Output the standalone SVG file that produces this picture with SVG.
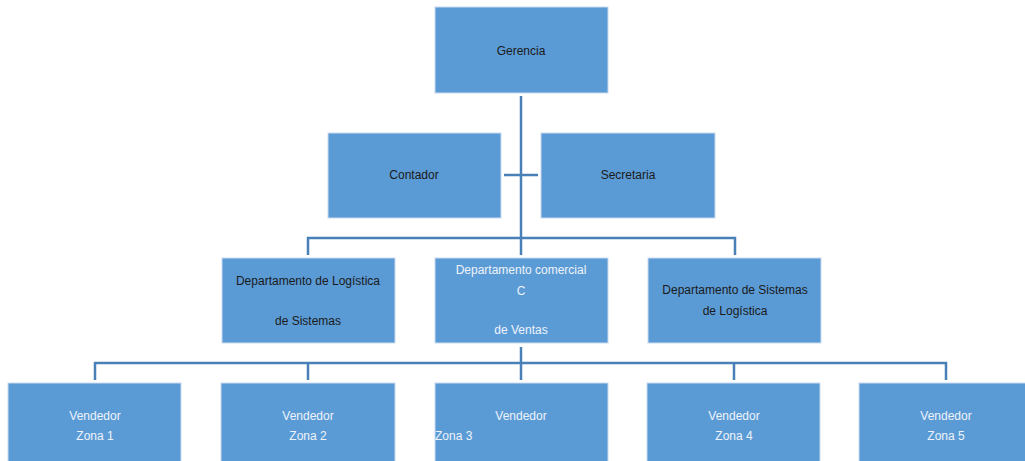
<svg xmlns="http://www.w3.org/2000/svg" width="1025" height="461" viewBox="0 0 1025 461">
<style>
.box{fill:#5b9bd5;stroke:#c9daf0;stroke-width:1}
.dk{font-family:"Liberation Sans",Arial,sans-serif;font-size:12px;fill:#1a1a1a;text-anchor:middle}
.lt{font-family:"Liberation Sans",Arial,sans-serif;font-size:12px;fill:#eef3fa;text-anchor:middle}
.ln{fill:none;stroke:#4a80b8;stroke-width:2.5}
</style>
<rect width="1025" height="461" fill="#ffffff"/>
<g id="connectors">
<path class="ln" d="M521 96V238"/>
<path class="ln" d="M504 175H538"/>
<path class="ln" d="M308 255V238H735V255"/>
<path class="ln" d="M521 238V255"/>
<path class="ln" d="M521 347V363"/>
<path class="ln" d="M95 380V363H946V380"/>
<path class="ln" d="M308 363V380M521 363V380M734 363V380"/>
</g>
<g id="gerencia"><rect class="box" x="435" y="7" width="173" height="86"/><text class="dk" x="521" y="55">Gerencia</text></g>
<g id="contador"><rect class="box" x="328" y="133" width="173" height="85"/><text class="dk" x="414" y="179">Contador</text></g>
<g id="secretaria"><rect class="box" x="541" y="133" width="174" height="85"/><text class="dk" x="628" y="179">Secretaria</text></g>
<g id="dep-logistica"><rect class="box" x="222" y="258" width="173" height="85"/><text class="dk" x="308" y="285">Departamento de Logística</text><text class="dk" x="308" y="325">de Sistemas</text></g>
<g id="dep-comercial"><rect class="box" x="435" y="258" width="173" height="85"/><text class="lt" x="521" y="274">Departamento comercial</text><text class="lt" x="521" y="295">C</text><text class="lt" x="521" y="334">de Ventas</text></g>
<g id="dep-sistemas"><rect class="box" x="648" y="258" width="173" height="85"/><text class="dk" x="735" y="294">Departamento de Sistemas</text><text class="dk" x="735" y="315">de Logística</text></g>
<g id="zona1"><rect class="box" x="8" y="383" width="173" height="85"/><text class="lt" x="95" y="420">Vendedor</text><text class="lt" x="95" y="440">Zona 1</text></g>
<g id="zona2"><rect class="box" x="221" y="383" width="174" height="85"/><text class="lt" x="308" y="420">Vendedor</text><text class="lt" x="308" y="440">Zona 2</text></g>
<g id="zona3"><rect class="box" x="435" y="383" width="173" height="85"/><text class="lt" x="521" y="420">Vendedor</text><text class="lt" x="435" y="440" text-anchor="start" style="text-anchor:start">Zona 3</text></g>
<g id="zona4"><rect class="box" x="647" y="383" width="173" height="85"/><text class="lt" x="734" y="420">Vendedor</text><text class="lt" x="734" y="440">Zona 4</text></g>
<g id="zona5"><rect class="box" x="859" y="383" width="173" height="85"/><text class="lt" x="946" y="420">Vendedor</text><text class="lt" x="946" y="440">Zona 5</text></g>
</svg>
